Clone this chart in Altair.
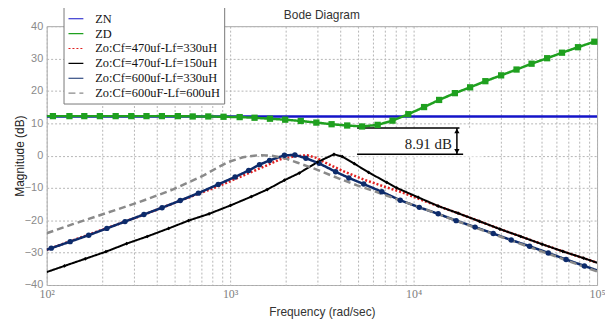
import altair as alt
import pandas as pd

# ---------------- data ----------------
NAMES = ["ZN", "ZD", "Zo:Cf=470uf-Lf=330uH", "Zo:Cf=470uf-Lf=150uH",
         "Zo:Cf=600uf-Lf=330uH", "Zo:Cf=600uF-Lf=600uH"]
COLORS = ["#1414c8", "#1fa01f", "#e02020", "#000000", "#0d2b6b", "#8a8a8a"]
DASHES = [[1, 0], [1, 0], [2, 2], [1, 0], [1, 0], [7, 4]]

# frequencies stored as log10(rad/sec)
zn_logf = [2.0, 5.0]
zn_db = [12.1, 12.1]

zd_logf = [2.000, 2.034, 2.124, 2.205, 2.290, 2.376, 2.461, 2.544, 2.628, 2.715,
           2.796, 2.881, 2.964, 3.052, 3.133, 3.217, 3.300, 3.385, 3.470, 3.553,
           3.638, 3.719, 3.804, 3.885, 3.971, 4.057, 4.139, 4.225, 4.308, 4.391,
           4.477, 4.561, 4.643, 4.728, 4.809, 4.896, 4.985, 5.000]
zd_db = [12.2, 12.2, 12.2, 12.2, 12.2, 12.2, 12.2, 12.2, 12.2, 12.2,
         12.1, 12.1, 12.0, 11.9, 11.7, 11.4, 11.1, 10.7, 10.2, 9.7,
         9.3, 9.0, 9.5, 10.8, 12.8, 15.0, 17.2, 19.3, 21.1, 23.0,
         24.8, 26.6, 28.4, 30.1, 31.8, 33.5, 35.2, 35.4]

red_logf = [2.000, 2.500, 2.800, 2.944, 3.025, 3.115, 3.205, 3.270, 3.350, 3.420,
            3.470, 3.512, 3.620, 3.728, 3.836, 3.944, 4.052, 4.134, 4.242, 4.359,
            4.470, 4.584, 4.701, 4.813, 4.927, 5.000]
red_db = [-29.1, -18.9, -12.4, -9.3, -7.3, -5.1, -2.9, -1.2, -0.2, 0.1,
          -0.7, -2.0, -4.9, -7.4, -9.5, -11.5, -13.9, -15.6, -17.8, -20.3,
          -22.7, -25.0, -27.4, -29.6, -31.7, -33.1]

blk_logf = [2.000, 2.097, 2.210, 2.323, 2.436, 2.548, 2.665, 2.773, 2.885, 3.002,
            3.115, 3.202, 3.296, 3.377, 3.476, 3.566, 3.611, 3.677, 3.755, 3.854,
            3.908, 4.025, 4.134, 4.242, 4.359, 4.470, 4.584, 4.701, 4.813, 4.927,
            5.000]
blk_db = [-36.0, -34.1, -31.9, -29.7, -27.2, -25.0, -22.5, -20.1, -18.0, -15.4,
          -12.7, -10.5, -7.6, -5.4, -2.0, 0.4, -0.3, -2.5, -5.2, -8.3,
          -10.0, -12.9, -15.6, -17.8, -20.3, -22.7, -25.0, -27.4, -29.6, -31.7,
          -33.1]

navy_logf = [2.000, 2.025, 2.128, 2.229, 2.328, 2.427, 2.530, 2.629, 2.728, 2.827,
             2.935, 3.027, 3.101, 3.160, 3.215, 3.296, 3.353, 3.413, 3.485, 3.575,
             3.647, 3.728, 3.827, 3.927, 4.031, 4.134, 4.232, 4.335, 4.434, 4.532,
             4.632, 4.734, 4.831, 4.931, 5.000]
navy_db = [-29.1, -28.6, -26.6, -24.6, -22.5, -20.4, -18.2, -16.1, -13.9, -11.6,
           -8.9, -6.6, -4.6, -2.8, -1.5, 0.1, 0.2, -0.8, -2.4, -5.0,
           -6.9, -8.8, -11.2, -13.8, -16.0, -18.0, -20.1, -22.1, -24.1, -26.1,
           -28.0, -30.1, -32.1, -34.1, -35.5]

grey_logf = [2.000, 2.142, 2.323, 2.503, 2.683, 2.850, 2.935, 2.989, 3.070, 3.151,
             3.223, 3.296, 3.368, 3.476, 3.584, 3.692, 3.800, 3.908, 4.016, 4.200,
             4.500, 4.800, 5.000]
grey_db = [-24.0, -21.2, -17.8, -14.4, -10.6, -6.3, -3.6, -2.0, -0.5, 0.1,
           0.0, -0.8, -2.2, -4.4, -6.9, -9.2, -11.3, -13.5, -15.6, -19.5,
           -25.6, -31.7, -35.8]

# annotation (margin between ZD minimum and the 0 dB peak)
ann_text = "8.91 dB"
ann_levels_db = [0.4, 8.5]
ann_lines_logf = [(3.692, 4.27), (3.692, 4.25)]
ann_arrow_logf = 4.236
ann_text_logf, ann_text_db = 4.08, 3.7
ann_box_logf, ann_box_db = (3.70, 4.38), (-0.3, 8.2)

# axis ticks
y_ticks = [-40, -30, -20, -10, 0, 10, 20, 30, 40]
x_grid = [m * 10 ** d for d in range(2, 5) for m in range(1, 10)] + [100000]


def df(name, logf, db):
    return pd.DataFrame({"series": name, "freq": [10 ** v for v in logf], "db": db})


d_zn = df(NAMES[0], zn_logf, zn_db)
d_zd = df(NAMES[1], zd_logf, zd_db)
d_red = df(NAMES[2], red_logf, red_db)
d_blk = df(NAMES[3], blk_logf, blk_db)
d_navy = df(NAMES[4], navy_logf, navy_db)
d_grey = df(NAMES[5], grey_logf, grey_db)

label_expr = ("datum.value == 100 ? '10²' : datum.value == 1000 ? '10³' : "
              "datum.value == 10000 ? '10⁴' : datum.value == 100000 ? '10⁵' : ''")

X = alt.X("freq:Q",
          scale=alt.Scale(type="log", domain=[100, 100000], nice=False),
          axis=alt.Axis(title="Frequency  (rad/sec)", values=x_grid, labelExpr=label_expr,
                        grid=True, gridDash=[2, 2], gridColor="#b5b5b5", ticks=False,
                        domain=False, labelFont="Liberation Serif", labelFontSize=12,
                        labelColor="#808080", labelPadding=4, titleFont="Liberation Sans",
                        titleFontSize=12, titleFontWeight="normal", titleColor="#333333",
                        titlePadding=7, labelFlush=False, labelOverlap=False))
Y = alt.Y("db:Q",
          scale=alt.Scale(domain=[-40, 40], nice=False),
          axis=alt.Axis(title="Magnitude (dB)", values=y_ticks, grid=True, gridDash=[2, 2],
                        gridColor="#b5b5b5", ticks=False, domain=False,
                        labelFont="Liberation Sans", labelFontSize=11, labelColor="#8a8a8a",
                        labelPadding=4, titleFont="Liberation Sans", titleFontSize=12,
                        titleFontWeight="normal", titleColor="#222222",
                        titleX=-20, titleY=130.5))

legend = alt.Legend(title=None, orient="none", legendX=17, legendY=-20)
color = alt.Color("series:N", scale=alt.Scale(domain=NAMES, range=COLORS), legend=legend)
dash = alt.StrokeDash("series:N", scale=alt.Scale(domain=NAMES, range=DASHES), legend=legend)


def line(d, w):
    return alt.Chart(d).mark_line(strokeWidth=w, clip=True).encode(
        x=X, y=Y, color=color, strokeDash=dash)


def inner(d):
    return d.iloc[1:-1]


box = alt.Chart(pd.DataFrame({"freq": [10 ** ann_box_logf[0]], "freq2": [10 ** ann_box_logf[1]],
                              "db": [ann_box_db[0]], "db2": [ann_box_db[1]]})).mark_rect(
    color="white").encode(x=X, x2="freq2:Q", y=Y, y2="db2:Q")

ann_lines = alt.Chart(pd.DataFrame({
    "freq": [10 ** a for a, b in ann_lines_logf],
    "freq2": [10 ** b for a, b in ann_lines_logf],
    "db": ann_levels_db})).mark_rule(color="black", strokeWidth=1.5).encode(
    x=X, x2="freq2:Q", y=Y)

ann_arrow = alt.Chart(pd.DataFrame({"freq": [10 ** ann_arrow_logf], "db": [ann_levels_db[0]],
                                    "db2": [ann_levels_db[1]]})).mark_rule(
    color="black", strokeWidth=1.5).encode(x=X, y=Y, y2="db2:Q")

heads = pd.DataFrame({"freq": [10 ** ann_arrow_logf] * 2,
                      "db": [ann_levels_db[1] - 0.9, ann_levels_db[0] + 0.9],
                      "shape": ["triangle-up", "triangle-down"]})
ann_heads = alt.Chart(heads).mark_point(filled=True, size=28, color="black", opacity=1).encode(
    x=X, y=Y, shape=alt.Shape("shape:N", scale=None))

ann_label = alt.Chart(pd.DataFrame({"freq": [10 ** ann_text_logf], "db": [ann_text_db],
                                    "t": [ann_text]})).mark_text(
    font="Liberation Serif", fontSize=15, color="#222222").encode(x=X, y=Y, text="t:N")

layers = [
    box,
    line(d_zn, 2.5),
    line(d_red, 2.5),
    line(d_blk, 2.0),
    line(d_navy, 2.5),
    line(d_grey, 2.5),
    alt.Chart(inner(d_navy)).mark_point(shape="circle", filled=True, size=30,
                                        color="#0d2b6b", opacity=1).encode(x=X, y=Y),
    alt.Chart(inner(d_blk)).mark_point(shape="diamond", filled=True, size=14,
                                       color="black", opacity=1).encode(x=X, y=Y),
    ann_lines, ann_arrow, ann_heads, ann_label,
    line(d_zd, 2.5),
    alt.Chart(inner(d_zd)).mark_square(size=40, color="#1fa01f", opacity=1).encode(x=X, y=Y),
]

chart = alt.layer(*layers).properties(
    width=555, height=261,
    title=alt.TitleParams("Bode Diagram", font="Liberation Sans", fontSize=12,
                          fontWeight="normal", color="#333333", offset=5, anchor="middle",
                          dy=21),
    autosize=alt.AutoSizeParams(type="none"),
    padding={"left": 39, "top": 17, "right": 8, "bottom": 40},
).configure_view(stroke="#a8a8a8", strokeWidth=1).configure_legend(
    fillColor="white", strokeColor="#777777", padding=4, labelFont="Liberation Serif",
    labelFontSize=12.5, labelColor="#111111", labelLimit=400, symbolType="stroke",
    symbolSize=225, symbolStrokeWidth=1.2, rowPadding=0, labelOffset=11, cornerRadius=0
)

chart.save("out.html", embed_options={"renderer": "svg", "actions": False})
